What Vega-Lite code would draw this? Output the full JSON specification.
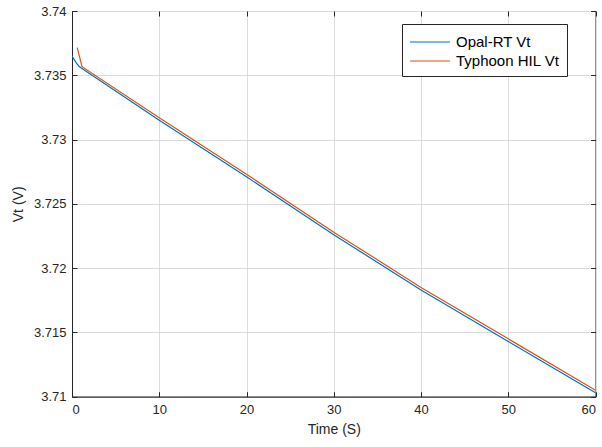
{
  "$schema": "https://vega.github.io/schema/vega-lite/v6.json",
  "width": 523.5,
  "height": 385.7,
  "autosize": {"type": "none"},
  "padding": {"left": 72, "top": 11, "right": 6.5, "bottom": 50.3},
  "background": "white",
  "config": {
    "view": {"stroke": "#262626", "strokeWidth": 1},
    "font": "Liberation Sans",
    "axis": {
      "labelFont": "Liberation Sans",
      "titleFont": "Liberation Sans",
      "labelColor": "#262626",
      "titleColor": "#262626",
      "domainColor": "#262626",
      "tickColor": "#262626",
      "gridColor": "#dcdcdc",
      "gridOpacity": 1,
      "labelFontSize": 13,
      "titleFontSize": 14,
      "titleFontWeight": "normal"
    }
  },
  "data": {
    "values": [
      {"series": "Opal-RT Vt", "t": 0, "v": 3.7365},
      {"series": "Opal-RT Vt", "t": 0.45, "v": 3.7360},
      {"series": "Opal-RT Vt", "t": 0.8, "v": 3.7357},
      {"series": "Opal-RT Vt", "t": 1.1, "v": 3.73555},
      {"series": "Opal-RT Vt", "t": 10, "v": 3.7315},
      {"series": "Opal-RT Vt", "t": 20, "v": 3.7271},
      {"series": "Opal-RT Vt", "t": 30, "v": 3.7226},
      {"series": "Opal-RT Vt", "t": 40, "v": 3.7183},
      {"series": "Opal-RT Vt", "t": 50, "v": 3.7143},
      {"series": "Opal-RT Vt", "t": 60, "v": 3.7103},
      {"series": "Typhoon HIL Vt", "t": 0.6, "v": 3.73715},
      {"series": "Typhoon HIL Vt", "t": 1.15, "v": 3.73567},
      {"series": "Typhoon HIL Vt", "t": 10, "v": 3.7317},
      {"series": "Typhoon HIL Vt", "t": 20, "v": 3.7273},
      {"series": "Typhoon HIL Vt", "t": 30, "v": 3.7228},
      {"series": "Typhoon HIL Vt", "t": 40, "v": 3.7185},
      {"series": "Typhoon HIL Vt", "t": 50, "v": 3.7145},
      {"series": "Typhoon HIL Vt", "t": 60, "v": 3.7105}
    ]
  },
  "resolve": {"axis": {"x": "independent", "y": "independent"}},
  "layer": [
    {
      "mark": {"type": "line", "strokeWidth": 1.2, "clip": true},
      "encoding": {
        "x": {
          "field": "t", "type": "quantitative",
          "scale": {"domain": [0, 60], "nice": false, "zero": false},
          "axis": {"title": "Time (S)", "values": [0, 10, 20, 30, 40, 50, 60], "ticks": true, "tickSize": -5, "labelPadding": 12, "titlePadding": 6}
        },
        "y": {
          "field": "v", "type": "quantitative",
          "scale": {"domain": [3.71, 3.74], "nice": false, "zero": false},
          "axis": {"title": "Vt (V)", "values": [3.71, 3.715, 3.72, 3.725, 3.73, 3.735, 3.74], "format": ".3~f", "ticks": true, "tickSize": -5, "labelPadding": 11, "titlePadding": 8}
        },
        "color": {
          "field": "series", "type": "nominal",
          "scale": {"domain": ["Opal-RT Vt", "Typhoon HIL Vt"], "range": ["#0072BD", "#D95319"]},
          "legend": {
            "title": null,
            "orient": "none",
            "legendX": 330,
            "legendY": 13,
            "fillColor": "white",
            "strokeColor": "#262626",
            "padding": 7,
            "symbolType": "M-1,0H3",
            "symbolSize": 400,
            "symbolStrokeWidth": 1.2,
            "labelFontSize": 15,
            "labelFont": "Liberation Sans",
            "labelColor": "#000000",
            "labelOffset": 25,
            "rowPadding": 0
          }
        },
        "order": {"field": "t", "type": "quantitative"}
      }
    },
    {
      "mark": {"type": "line", "opacity": 0},
      "encoding": {
        "x": {"field": "t", "type": "quantitative", "axis": {"orient": "top", "labels": false, "grid": false, "title": null, "domain": false, "ticks": true, "tickSize": 5, "offset": -5, "values": [0, 10, 20, 30, 40, 50, 60]}},
        "y": {"field": "v", "type": "quantitative", "axis": {"orient": "right", "labels": false, "grid": false, "title": null, "domain": false, "ticks": true, "tickSize": 5, "offset": -5, "values": [3.71, 3.715, 3.72, 3.725, 3.73, 3.735, 3.74]}},
        "detail": {"field": "series", "type": "nominal"}
      }
    }
  ]
}
